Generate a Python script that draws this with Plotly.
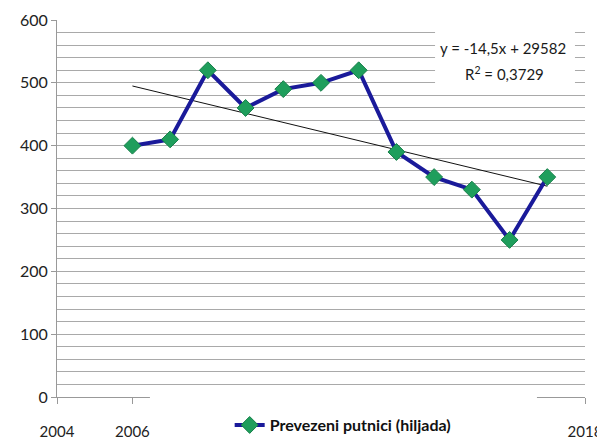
import numpy as np
import plotly.graph_objects as go

years = [2006, 2007, 2008, 2009, 2010, 2011, 2012, 2013, 2014, 2015, 2016, 2017]
passengers = [400, 410, 520, 460, 490, 500, 520, 390, 350, 330, 250, 350]
series_name = "Prevezeni putnici (hiljada)"
x_ticks = [2004, 2006, 2018]
y_ticks = [0, 100, 200, 300, 400, 500, 600]
trend_slope = -14.5
trend_intercept = 29582
equation_line1 = "y = -14,5x + 29582"
equation_line2 = "R<sup>2</sup> = 0,3729"

FONT = "Lato"
trend_x = [years[0], years[-1]]
trend_y = [trend_slope * x + trend_intercept for x in trend_x]

fig = go.Figure()
fig.add_trace(go.Scatter(
    x=trend_x, y=trend_y, mode="lines",
    line=dict(color="#111111", width=1), showlegend=False, hoverinfo="skip"))
fig.add_trace(go.Scatter(
    x=years, y=passengers, mode="lines+markers", name="<b>" + series_name + "</b>",
    line=dict(color="#1a1a9a", width=4),
    marker=dict(symbol="diamond", size=13, color="#1f9e5c",
                line=dict(color="#17804a", width=1))))

grid = "#a9a9a9"
fig.update_layout(
    width=605, height=439,
    margin=dict(l=49, r=28, t=12, b=50),
    paper_bgcolor="white", plot_bgcolor="white",
    font=dict(family=FONT, size=15, color="#222222"),
    xaxis=dict(range=[2004, 2018], tickvals=x_ticks, ticktext=[str(v) for v in x_ticks],
               showgrid=False, zeroline=False, showline=True, linecolor="#999999",
               ticks="outside", ticklen=6, tickcolor="#999999", automargin=False,
               ticklabelstandoff=15, tickfont=dict(size=15)),
    yaxis=dict(range=[0, 600], tickvals=y_ticks, showgrid=True, gridcolor=grid,
               gridwidth=1, zeroline=False, showline=True, linecolor="#999999",
               ticks="outside", ticklen=5, tickcolor="#999999", automargin=False,
               minor=dict(dtick=20, showgrid=True, gridcolor=grid, gridwidth=1),
               tickfont=dict(size=16)),
    showlegend=True,
    legend=dict(x=0.554, y=0.05, xref="container", yref="container",
                xanchor="center", yanchor="middle",
                bgcolor="rgba(0,0,0,0)", font=dict(size=16, family=FONT, color="#111111"),
                itemwidth=30, orientation="h"),
)
# white legend area covering the middle of the x axis line
fig.add_shape(type="rect", xref="paper", yref="paper", layer="above",
              x0=0.176, x1=0.909, y0=-0.06, y1=0.015,
              fillcolor="white", line=dict(width=0))
# white box behind the trendline equation
fig.add_shape(type="rect", xref="paper", yref="paper", layer="above",
              x0=0.716, x1=0.981, y0=0.828, y1=0.973,
              fillcolor="white", line=dict(width=0))
fig.add_annotation(x=0.845, y=0.926, xref="paper", yref="paper", text=equation_line1,
                   showarrow=False, xanchor="center", yanchor="middle",
                   font=dict(size=15, family=FONT, color="#1a1a1a"))
fig.add_annotation(x=0.848, y=0.859, xref="paper", yref="paper", text=equation_line2,
                   showarrow=False, xanchor="center", yanchor="middle",
                   font=dict(size=15, family=FONT, color="#1a1a1a"))
fig.write_html("out.html")
